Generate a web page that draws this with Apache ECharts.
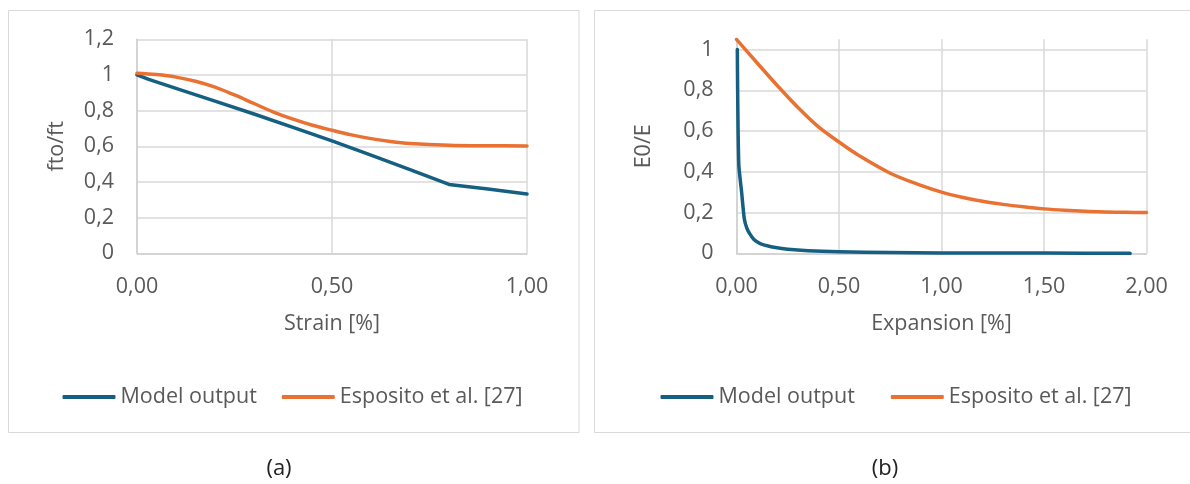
<!DOCTYPE html>
<html>
<head>
<meta charset="utf-8">
<script src="https://cdn.jsdelivr.net/npm/echarts@6/dist/echarts.min.js"></script>
<style>
html,body{margin:0;padding:0;background:#fff;}
#c{width:1190px;height:484px;}
</style>
</head>
<body>
<div id="c"></div>
<script>
// ---- Data ----
const seriesNames = ['Model output', 'Esposito et al. [27]'];

// (a) fto/ft vs Strain [%]
const aModelX = [0, 0.03, 0.1, 0.2, 0.3, 0.4, 0.5, 0.6, 0.7, 0.8, 0.9, 1.0];
const aModelY = [1.0, 0.975, 0.925, 0.853, 0.781, 0.706, 0.63, 0.551, 0.469, 0.386, 0.36, 0.333];
const aEspX = [0, 0.05, 0.1, 0.15, 0.2, 0.25, 0.3, 0.35, 0.4, 0.45, 0.5, 0.55, 0.6, 0.65, 0.7, 0.8, 0.9, 1.0];
const aEspY = [1.01, 1.002, 0.988, 0.965, 0.932, 0.888, 0.84, 0.792, 0.752, 0.718, 0.69, 0.664, 0.643, 0.627, 0.616, 0.606, 0.603, 0.602];

// (b) E0/E vs Expansion [%]
const bModelX = [0.004, 0.011, 0.025, 0.038, 0.05, 0.065, 0.085, 0.11, 0.125, 0.15, 0.19, 0.25, 0.35, 0.5, 0.75, 1.0, 1.5, 1.92];
const bModelY = [1.0, 0.44, 0.30, 0.17, 0.125, 0.095, 0.068, 0.05, 0.044, 0.037, 0.028, 0.02, 0.013, 0.008, 0.004, 0.002, 0.001, 0.0];
const bEspX = [0, 0.1, 0.2, 0.3, 0.4, 0.5, 0.6, 0.75, 0.9, 1.0, 1.1, 1.2, 1.3, 1.4, 1.5, 1.6, 1.7, 1.8, 1.9, 2.0];
const bEspY = [1.05, 0.935, 0.822, 0.715, 0.62, 0.546, 0.478, 0.393, 0.333, 0.3, 0.275, 0.255, 0.24, 0.228, 0.218, 0.211, 0.206, 0.203, 0.201, 0.2];

// axis settings
const aXTicks = {min: 0, max: 1, interval: 0.5};
const aYTicks = {min: 0, max: 1.2, interval: 0.2};
const bXTicks = {min: 0, max: 2, interval: 0.5};
const bYTicks = {min: 0, max: 1.05, interval: 0.2};
const axisTitles = {aX: 'Strain [%]', aY: 'fto/ft', bX: 'Expansion [%]', bY: 'E0/E'};
const captions = ['(a)', '(b)'];

// ---- Styling ----
const FONT = '"Open Sans", Roboto, sans-serif';
const FS = 21.5;
const TXT = '#595959';
const GRIDC = '#d9d9d9';
const BLUE = '#156082';
const ORANGE = '#E97132';

const zip = (xs, ys) => xs.map((x, i) => [x, ys[i]]);
const fmtX = v => v.toFixed(2).replace('.', ',');
const fmtY = v => String(Math.round(v * 10) / 10).replace('.', ',');

function xAxis(idx, t, name) {
  return {
    type: 'value', gridIndex: idx, min: t.min, max: t.max, interval: t.interval,
    name: name, nameLocation: 'middle', nameGap: 60,
    nameTextStyle: {fontFamily: FONT, fontSize: FS, color: TXT},
    axisLine: {show: true, onZero: false, lineStyle: {color: '#cfcfcf', width: 1.5}},
    axisTick: {show: false},
    axisLabel: {fontFamily: FONT, fontSize: FS, color: TXT, margin: 23, formatter: fmtX},
    splitLine: {show: true, lineStyle: {color: GRIDC, width: 1.5}}
  };
}
function yAxis(idx, t, name, gap, hideMax) {
  return {
    type: 'value', gridIndex: idx, min: t.min, max: t.max, interval: t.interval,
    name: name, nameLocation: 'middle', nameGap: gap,
    nameTextStyle: {fontFamily: FONT, fontSize: FS, color: TXT},
    axisLine: {show: true, lineStyle: {color: '#cfcfcf', width: 1.5}},
    axisTick: {show: false},
    axisLabel: {fontFamily: FONT, fontSize: FS, color: TXT, margin: 23, formatter: fmtY,
                showMaxLabel: hideMax ? false : true},
    splitLine: {show: true, showMaxLine: hideMax ? false : true, lineStyle: {color: GRIDC, width: 1.5}}
  };
}
function lineSeries(name, data, color, xi, yi, smooth) {
  return {
    type: 'line', name: name, data: data, xAxisIndex: xi, yAxisIndex: yi,
    showSymbol: false, symbol: 'none', smooth: smooth,
    lineStyle: {color: color, width: 3.5, cap: 'round', join: 'round'},
    itemStyle: {color: color},
    animation: false
  };
}

const chart = echarts.init(document.getElementById('c'), null, {renderer: 'canvas'});
const legendCommon = {
  data: seriesNames, orient: 'horizontal', icon: 'roundRect', itemWidth: 53, itemHeight: 4,
  padding: 0,
  textStyle: {fontFamily: FONT, fontSize: FS, color: TXT}, top: 386, selectedMode: false
};
chart.setOption({
  animation: false,
  backgroundColor: '#fff',
  graphic: [
    {type: 'rect', shape: {x: 8.5, y: 10.5, width: 570.5, height: 422}, style: {fill: 'none', stroke: '#d9d9d9', lineWidth: 1}, silent: true, z: -1},
    {type: 'rect', shape: {x: 594.5, y: 10.5, width: 620, height: 422}, style: {fill: 'none', stroke: '#d9d9d9', lineWidth: 1}, silent: true, z: -1},
    {type: 'text', x: 279, y: 469, style: {text: captions[0], fontFamily: FONT, fontSize: 22, fill: '#222', textAlign: 'center', textVerticalAlign: 'middle'}},
    {type: 'text', x: 885, y: 469, style: {text: captions[1], fontFamily: FONT, fontSize: 22, fill: '#222', textAlign: 'center', textVerticalAlign: 'middle'}}
  ],
  grid: [
    {left: 137, right: 1190 - 527, top: 39.3, bottom: 484 - 253.3, containLabel: false, outerBoundsMode: 'none'},
    {left: 736.5, right: 1190 - 1146.5, top: 39.3, bottom: 484 - 253.3, containLabel: false, outerBoundsMode: 'none'}
  ],
  xAxis: [xAxis(0, aXTicks, axisTitles.aX), xAxis(1, bXTicks, axisTitles.bX)],
  yAxis: [yAxis(0, aYTicks, axisTitles.aY, 69, false), yAxis(1, bYTicks, axisTitles.bY, 81.5, true)],
  legend: [
    Object.assign({}, legendCommon, {left: 62.5, itemGap: 25}),
    Object.assign({}, legendCommon, {left: 660.5, itemGap: 36})
  ],
  series: [
    lineSeries(seriesNames[0], zip(aModelX, aModelY), BLUE, 0, 0, false),
    lineSeries(seriesNames[1], zip(aEspX, aEspY), ORANGE, 0, 0, 0.35),
    lineSeries(seriesNames[0], zip(bModelX, bModelY), BLUE, 1, 1, 0.25),
    lineSeries(seriesNames[1], zip(bEspX, bEspY), ORANGE, 1, 1, 0.35)
  ]
});
</script>
</body>
</html>
